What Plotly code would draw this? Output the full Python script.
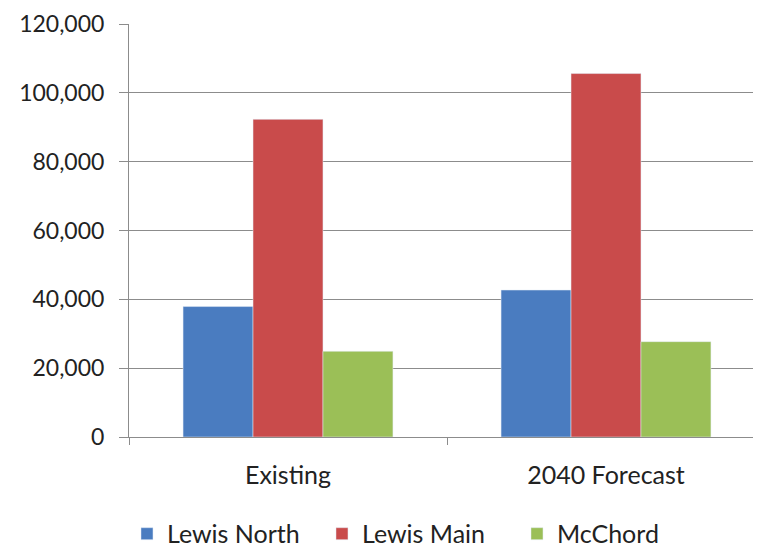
import plotly.graph_objects as go

categories = ["Existing", "2040 Forecast"]
lewis_north = [37900, 42700]
lewis_main = [92300, 105600]
mcchord = [24900, 27700]

y_ticks = [0, 20000, 40000, 60000, 80000, 100000, 120000]

fig = go.Figure()
fig.add_trace(go.Bar(x=categories, y=lewis_north, name="Lewis North", marker_color="#4A7CC0"))
fig.add_trace(go.Bar(x=categories, y=lewis_main, name="Lewis Main", marker_color="#C94B4B"))
fig.add_trace(go.Bar(x=categories, y=mcchord, name="McChord", marker_color="#9BBF57"))

grid = "#8C8C8C"
# page body adds an 8px offset, so margins are trimmed by 8
fig.update_layout(
    width=761, height=549,
    margin=dict(l=121, r=4, t=16, b=120),
    paper_bgcolor="white", plot_bgcolor="white",
    font=dict(family="Lato", size=20, color="#222222"),
    barmode="group", bargap=0.34, bargroupgap=0,
    showlegend=True,
    legend=dict(orientation="h", xref="container", yref="container",
                x=0.5407, xanchor="center", y=0.042, yanchor="middle",
                font=dict(size=25), itemwidth=30, tracegroupgap=0,
                entrywidth=150, entrywidthmode="pixels"),
)
fig.update_xaxes(
    automargin=False,
    showline=True, linecolor=grid, linewidth=1,
    ticks="outside", tickson="boundaries", ticklen=7, tickcolor=grid,
    ticklabelstandoff=16, tickfont=dict(size=25),
)
fig.update_yaxes(
    automargin=False,
    range=[0, 120000], tickvals=y_ticks, tickformat=",",
    showgrid=True, gridcolor=grid, gridwidth=1,
    showline=True, linecolor=grid, linewidth=1,
    ticks="outside", ticklen=9, tickcolor=grid,
    ticklabelstandoff=10, zeroline=False, tickfont=dict(size=23),
)

fig.write_html("out.html")
